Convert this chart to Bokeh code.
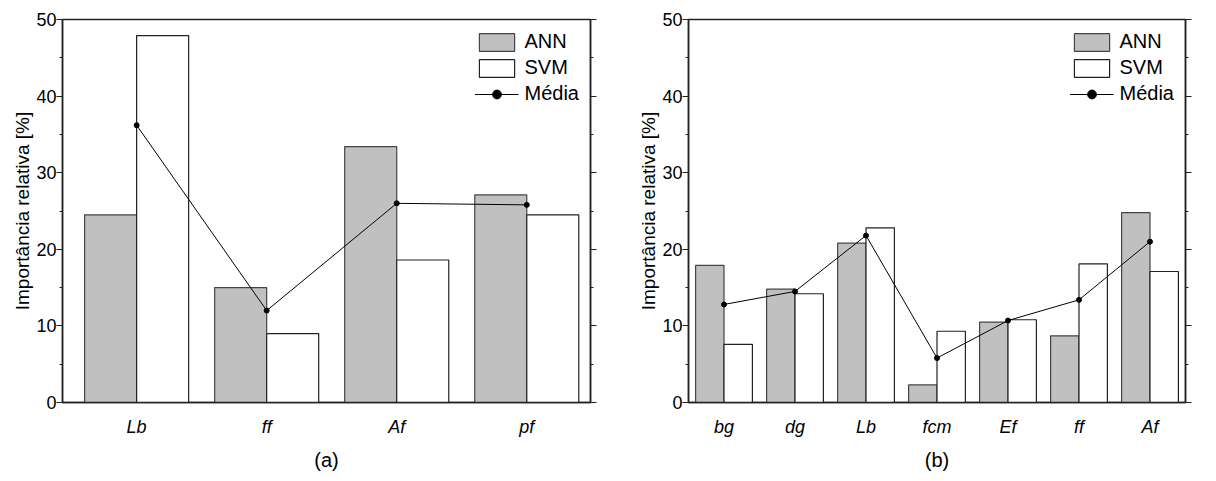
from bokeh.plotting import figure
from bokeh.layouts import row
from bokeh.models import (Range1d, LinearAxis, FixedTicker, SingleIntervalTicker,
                          Legend, LegendItem, ColumnDataSource, CustomJSTickFormatter)
from bokeh.transform import dodge
from bokeh.embed import file_html
from bokeh.resources import INLINE

# ---- data ----
cat_a = ["Lb", "ff", "Af", "pf"]
ann_a = [24.5, 15.0, 33.4, 27.1]
svm_a = [47.9, 9.0, 18.6, 24.5]
media_a = [36.2, 12.0, 26.0, 25.8]

cat_b = ["bg", "dg", "Lb", "fcm", "Ef", "ff", "Af"]
ann_b = [17.9, 14.8, 20.8, 2.3, 10.5, 8.7, 24.8]
svm_b = [7.6, 14.2, 22.8, 9.3, 10.8, 18.1, 17.1]
media_b = [12.8, 14.5, 21.8, 5.8, 10.7, 13.4, 21.0]

y_label = "Importância relativa [%]"
FONT = "Liberation Sans"


def make_panel(cats, ann, svm, media, caption, x_start, x_end, width, mbl, mbr):
    pos = list(range(1, len(cats) + 1))
    src = ColumnDataSource(dict(x=pos, ann=ann, svm=svm, media=media))
    p = figure(width=width, height=478, x_range=Range1d(x_start, x_end),
               y_range=Range1d(0, 50), output_backend="svg", toolbar_location=None,
               min_border_left=mbl, min_border_right=mbr, min_border_top=19,
               min_border_bottom=76)
    p.xgrid.visible = False
    p.ygrid.visible = False
    p.background_fill_color = "white"
    p.border_fill_color = "white"
    p.outline_line_color = "#222222"
    p.outline_line_width = 1.5

    r1 = p.vbar(x=dodge("x", -0.2), top="ann", width=0.4, source=src,
                fill_color="#c0c0c0", line_color="#444444", line_width=1.2)
    r2 = p.vbar(x=dodge("x", 0.2), top="svm", width=0.4, source=src,
                fill_color="white", line_color="#222222", line_width=1.2)
    r3 = p.line("x", "media", source=src, line_color="black", line_width=1)
    r4 = p.scatter("x", "media", source=src, size=5, fill_color="black",
                   line_color="black")

    # x axis
    xa = p.xaxis[0]
    xa.ticker = FixedTicker(ticks=pos)
    xa.major_label_overrides = {i: c for i, c in zip(pos, cats)}
    xa.major_tick_out = 0
    xa.major_tick_in = 0
    xa.minor_tick_out = 0
    xa.minor_tick_in = 0
    xa.major_label_text_font = FONT
    xa.major_label_text_font_style = "italic"
    xa.major_label_text_font_size = "18px"
    xa.major_label_text_color = "black"
    xa.major_label_standoff = 14
    xa.axis_label = caption
    xa.axis_label_text_font = FONT
    xa.axis_label_text_font_style = "normal"
    xa.axis_label_text_font_size = "20px"
    xa.axis_label_text_color = "black"
    xa.axis_label_standoff = 9
    xa.axis_line_color = "#222222"
    xa.axis_line_width = 1.5

    # y axis
    ya = p.yaxis[0]
    ya.ticker = SingleIntervalTicker(interval=10, num_minor_ticks=2)
    ya.axis_label = y_label
    ya.axis_label_text_font = FONT
    ya.axis_label_text_font_style = "normal"
    ya.axis_label_text_font_size = "19px"
    ya.axis_label_text_color = "black"
    ya.axis_label_standoff = 0
    ya.major_label_text_font = FONT
    ya.major_label_text_font_size = "18px"
    ya.major_label_text_color = "black"
    ya.major_label_standoff = 0
    ya.major_tick_out = 6
    ya.major_tick_in = 0
    ya.minor_tick_out = 3
    ya.minor_tick_in = 0
    ya.axis_line_color = "#222222"
    ya.axis_line_width = 1.5
    ya.major_tick_line_color = "#222222"
    ya.minor_tick_line_color = "#222222"

    # mirrored right axis: ticks only
    ra = LinearAxis(ticker=SingleIntervalTicker(interval=10, num_minor_ticks=2),
                    formatter=CustomJSTickFormatter(code="return '';"),
                    major_label_standoff=0,
                    major_tick_out=6, major_tick_in=0, minor_tick_out=3,
                    minor_tick_in=0, axis_line_color="#222222", axis_line_width=1.5,
                    major_tick_line_color="#222222", minor_tick_line_color="#222222")
    p.add_layout(ra, "right")

    legend = Legend(items=[LegendItem(label="ANN", renderers=[r1]),
                           LegendItem(label="SVM", renderers=[r2]),
                           LegendItem(label="Média", renderers=[r3, r4])],
                    location="top_right")
    legend.label_text_font = FONT
    legend.label_text_font_size = "20px"
    legend.label_text_color = "black"
    legend.glyph_width = 44
    legend.glyph_height = 22
    legend.label_height = 22
    legend.spacing = 3
    legend.label_standoff = 6
    legend.margin = 11
    legend.padding = 0
    legend.border_line_color = None
    legend.background_fill_alpha = 0
    p.add_layout(legend)
    return p


p1 = make_panel(cat_a, ann_a, svm_a, media_a, "(a)", 0.43, 4.49, 615, 62, 25)
p2 = make_panel(cat_b, ann_b, svm_b, media_b, "(b)", 0.5, 7.5, 595, 73, 25)

layout = row(p1, p2)
open("out.html", "w").write(file_html(layout, INLINE))
